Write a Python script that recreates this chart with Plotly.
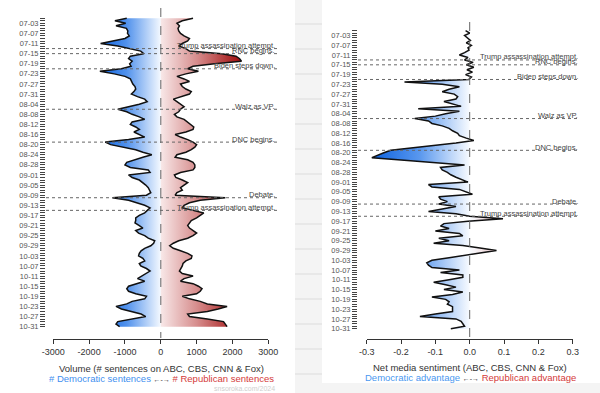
import plotly.graph_objects as go
import pandas as pd

W, H = 600, 393

# ---------------- data ----------------
dates = pd.date_range("2024-07-01", "2024-10-31", freq="D")

dem_volume = [
    -950, -1280, -980, -1250, -960, -920, -930, -880, -1000, -1300,
    -1680, -1200, -880, -560, -480, -850, -900, -800, -870, -830,
    -1100, -1700, -1300, -1000, -850, -820, -780, -720, -700, -750,
    -820, -650, -450, -380, -600, -900, -1200, -950, -800, -600,
    -450, -800, -850, -700, -600, -750, -600, -450, -900, -1550,
    -1400, -1050, -700, -500, -250, -500, -700, -950, -1000, -850,
    -350, -300, -900, -800, -600, -500, -420, -350, -320, -280,
    -400, -1350, -900, -650, -450, -300, -380, -450, -600, -700,
    -700, -720, -600, -500, -700, -620, -450, -350, -170, -200,
    -280, -450, -550, -600, -620, -500, -450, -600, -560, -400,
    -300, -420, -500, -650, -450, -700, -900, -950, -900, -700,
    -400, -450, -800, -950, -1250, -1100, -800, -550, -420, -800,
    -1200, -1250, -1150,
]

rep_volume = [
    900, 600, 450, 520, 480, 500, 550, 650, 800, 750,
    600, 500, 700, 800, 1700, 2100, 2200, 2250, 1500, 900,
    750, 1050, 700, 450, 650, 800, 550, 600, 700, 850,
    800, 600, 350, 450, 550, 650, 550, 500, 380, 450,
    650, 750, 850, 920, 900, 700, 400, 550, 750, 900,
    1000, 950, 850, 700, 450, 400, 750, 900, 950, 950,
    900, 550, 380, 420, 600, 750, 650, 550, 600, 450,
    400, 1800, 1100, 800, 650, 600, 900, 1200, 1100, 1000,
    850, 800, 750, 800, 900, 1000, 900, 750, 500, 350,
    250, 350, 550, 750, 870, 850, 700, 620, 600, 550,
    520, 600, 900, 650, 550, 900, 1050, 1150, 1100, 1000,
    600, 800, 1100, 1300, 1850, 1600, 1300, 750, 800, 1300,
    1750, 1800, 1850,
]

net_sentiment = [
    -0.012, 0.000, -0.015, -0.005, 0.002, -0.010, 0.005, -0.005, -0.002, -0.015,
    -0.030, -0.005, -0.015, 0.010, -0.010, 0.012, -0.008, 0.008, -0.012, 0.005,
    -0.003, -0.190, -0.080, -0.030, -0.060, -0.080, -0.045, -0.035, -0.040, -0.075,
    -0.050, -0.025, -0.150, -0.030, -0.070, -0.100, -0.160, -0.120, -0.110, -0.080,
    -0.060, -0.050, -0.035, -0.030, -0.010, 0.012, -0.040, -0.100, -0.170, -0.230,
    -0.250, -0.270, -0.285, -0.200, -0.110, -0.015, -0.085, -0.080, -0.065, -0.055,
    -0.040, -0.020, -0.005, -0.120, -0.110, -0.030, -0.010, 0.008, -0.090, -0.085,
    -0.065, -0.090, -0.040, -0.080, -0.120, -0.040, 0.000, 0.097, -0.005, -0.075,
    -0.085, -0.060, -0.100, -0.030, -0.020, -0.090, -0.060, -0.105, -0.020, 0.030,
    0.078, 0.030, -0.010, -0.060, -0.110, -0.125, -0.120, -0.110, -0.030, -0.085,
    -0.020, -0.020, -0.060, -0.105, -0.070, -0.040, -0.075, -0.020, -0.050, -0.110,
    -0.070, -0.060, -0.065, -0.050, -0.050, -0.050, -0.100, -0.145, -0.040, -0.025,
    -0.020, -0.015, -0.055,
]

date_ticks = pd.date_range("2024-07-03", "2024-10-31", freq="4D")
event_dates = ["2024-07-13", "2024-07-15", "2024-07-21", "2024-08-06",
               "2024-08-19", "2024-09-10", "2024-09-15"]
event_labels = ["Trump assassination attempt.", "RNC begins.", "Biden steps down.",
                "Walz as VP.", "DNC begins.", "Debate.", "Trump assassination attempt."]
volume_ticks = [-3000, -2000, -1000, 0, 1000, 2000, 3000]
volume_ticktext = ["-3000", "-2000", "-1000", "0", "1000", "2000", "3000"]
sent_ticks = [-0.3, -0.2, -0.1, 0.0, 0.1, 0.2, 0.3]
sent_ticktext = ["-0.3", "-0.2", "-0.1", "0.0", "0.1", "0.2", "0.3"]

# ---------------- helpers ----------------
def px(x):
    return x / W

def py(y):
    return 1 - y / H

def date_range_for(ref_y, per_day, top, bottom):
    ref = pd.Timestamp("2024-07-03")
    d_top = ref + pd.Timedelta(days=(top - ref_y) / per_day)
    d_bot = ref + pd.Timedelta(days=(bottom - ref_y) / per_day)
    return [d_bot, d_top]

FONT = "Liberation Sans, Arial, sans-serif"
BLUE_SCALE = [[0, "rgb(10,96,222)"], [0.45, "rgb(80,145,236)"], [1, "rgb(244,249,255)"]]
RED_SCALE = [[0, "rgb(248,232,232)"], [0.45, "rgb(214,140,140)"], [1, "rgb(160,10,10)"]]
NET_SCALE = [[0, "rgb(10,96,222)"], [0.25, "rgb(90,152,238)"], [0.5, "rgb(248,251,255)"],
             [0.75, "rgb(225,160,160)"], [1, "rgb(165,15,15)"]]

fig = go.Figure()

fig.add_trace(go.Scatter(
    x=dem_volume, y=dates, mode="lines", xaxis="x", yaxis="y",
    line=dict(color="#111", width=1.5), fill="tozerox",
    fillgradient=dict(type="horizontal", colorscale=BLUE_SCALE, start=-1750, stop=0),
    hoverinfo="skip", showlegend=False))
fig.add_trace(go.Scatter(
    x=rep_volume, y=dates, mode="lines", xaxis="x", yaxis="y",
    line=dict(color="#111", width=1.5), fill="tozerox",
    fillgradient=dict(type="horizontal", colorscale=RED_SCALE, start=0, stop=2250),
    hoverinfo="skip", showlegend=False))
fig.add_trace(go.Scatter(
    x=net_sentiment, y=dates, mode="lines", xaxis="x2", yaxis="y2",
    line=dict(color="#111", width=1.5), fill="tozerox",
    fillgradient=dict(type="horizontal", colorscale=NET_SCALE, start=-0.29, stop=0.29),
    hoverinfo="skip", showlegend=False))

shapes = []
# background strip between panels
shapes.append(dict(type="rect", xref="paper", yref="paper", x0=px(295), x1=px(322),
                   y0=0, y1=1, fillcolor="#f4f4f4", line=dict(width=0), layer="below"))
shapes.append(dict(type="rect", xref="paper", yref="paper", x0=px(322), x1=1,
                   y0=0, y1=py(383), fillcolor="#f4f4f4", line=dict(width=0), layer="below"))
for yy in range(24, 393, 25):
    shapes.append(dict(type="line", xref="paper", yref="paper", x0=px(295), x1=px(322),
                       y0=py(yy), y1=py(yy), line=dict(color="#dcdcdc", width=1), layer="below"))

# zero lines
shapes.append(dict(type="line", xref="x", yref="paper", x0=0, x1=0, y0=py(8), y1=py(338),
                   line=dict(color="#666", width=1, dash="dash"), layer="above"))
shapes.append(dict(type="line", xref="x2", yref="paper", x0=0, x1=0, y0=py(22), y1=py(338),
                   line=dict(color="#666", width=1, dash="dash"), layer="above"))

annotations = []
for d, lab in zip(event_dates, event_labels):
    shapes.append(dict(type="line", xref="paper", yref="y", x0=px(46), x1=px(277), y0=d, y1=d,
                       line=dict(color="#666", width=1, dash="dot"), layer="above"))
    shapes.append(dict(type="line", xref="paper", yref="y2", x0=px(358), x1=px(580), y0=d, y1=d,
                       line=dict(color="#666", width=1, dash="dot"), layer="above"))
    annotations.append(dict(xref="paper", yref="y", x=px(277), y=d, text=lab, showarrow=False,
                            xanchor="right", yanchor="middle", yshift=3,
                            font=dict(family=FONT, size=7.5, color="#444")))
    annotations.append(dict(xref="paper", yref="y2", x=px(580), y=d, text=lab, showarrow=False,
                            xanchor="right", yanchor="middle", yshift=3,
                            font=dict(family=FONT, size=7.5, color="#444")))

# axis titles
annotations += [
    dict(xref="paper", yref="paper", x=px(161), y=py(368), text="Volume (# sentences on ABC, CBS, CNN & Fox)",
         showarrow=False, xanchor="center", yanchor="middle", font=dict(family=FONT, size=9.5, color="#333")),
    dict(xref="paper", yref="paper", x=px(161), y=py(378),
         text="<span style='color:#3f8fef'># Democratic sentences</span> <span style='color:#333;font-size:7px'>←-→</span> <span style='color:#d43a3a'># Republican sentences</span>",
         showarrow=False, xanchor="center", yanchor="middle", font=dict(family=FONT, size=9.5)),
    dict(xref="paper", yref="paper", x=px(277), y=py(388), text="snsoroka.com/2024",
         showarrow=False, xanchor="right", yanchor="middle", font=dict(family=FONT, size=7, color="#cfcfcf")),
    dict(xref="paper", yref="paper", x=px(470), y=py(367.5), text="Net media sentiment (ABC, CBS, CNN & Fox)",
         showarrow=False, xanchor="center", yanchor="middle", font=dict(family=FONT, size=9.5, color="#333")),
    dict(xref="paper", yref="paper", x=px(470), y=py(377.5),
         text="<span style='color:#4a98f0'>Democratic advantage</span> <span style='color:#333;font-size:7px'>←-→</span> <span style='color:#d43a3a'>Republican advantage</span>",
         showarrow=False, xanchor="center", yanchor="middle", font=dict(family=FONT, size=9.5)),
]

yaxis_common = dict(
    type="date", anchor="free", automargin=False, showgrid=False, zeroline=False, showline=False,
    tickvals=list(date_ticks), tickformat="%m-%d", ticks="outside", ticklen=5,
    tickcolor="#444", tickwidth=1, tickfont=dict(family=FONT, size=7.5, color="#555"),
    minor=dict(ticks="outside", ticklen=5, tickcolor="#444", tickwidth=1,
               dtick=86400000, tick0="2024-07-01", showgrid=False),
)
xaxis_common = dict(
    anchor="free", position=py(339), automargin=False, showgrid=False, zeroline=False, showline=True,
    linecolor="#333", linewidth=1, ticks="outside", ticklen=4, tickcolor="#333",
    tickfont=dict(family=FONT, size=9, color="#333"),
)

fig.update_layout(
    width=W, height=H, autosize=False, margin=dict(l=0, r=0, t=0, b=0, pad=0),
    paper_bgcolor="white", plot_bgcolor="rgba(0,0,0,0)",
    xaxis=dict(domain=[px(53.3), px(268.3)], range=[-3000, 3000],
               tickvals=volume_ticks, ticktext=volume_ticktext, **xaxis_common),
    yaxis=dict(domain=[py(328), py(17)], range=date_range_for(23.3, 2.528, 17, 328),
               position=px(45), **yaxis_common),
    xaxis2=dict(domain=[px(366.7), px(572.7)], range=[-0.3, 0.3],
                tickvals=sent_ticks, ticktext=sent_ticktext, **xaxis_common),
    yaxis2=dict(domain=[py(330), py(29)], range=date_range_for(35.5, 2.443, 29, 330),
                position=px(357), **yaxis_common),
    shapes=shapes, annotations=annotations, font=dict(family=FONT),
)

fig.write_html("out.html", config={"responsive": False, "displayModeBar": False},
               post_script="document.body.style.margin='0';document.body.style.padding='0';")
